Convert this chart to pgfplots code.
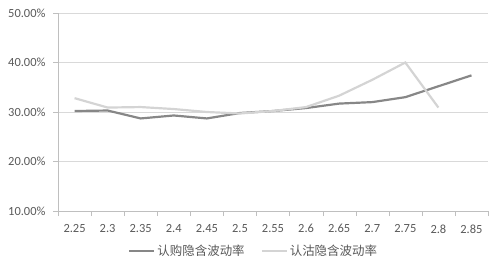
\documentclass[border=0pt]{standalone}
\usepackage{pgfplots}
\pgfplotsset{compat=1.18}
\usepackage{fontspec}
\setmainfont{Carlito}
\newfontfamily\cjk{Noto Sans CJK SC}
\definecolor{txt}{HTML}{595959}
\definecolor{gridc}{HTML}{D9D9D9}
\definecolor{axc}{HTML}{BFBFBF}
\definecolor{callc}{HTML}{878787}
\definecolor{putc}{HTML}{D4D4D4}
\begin{document}
\begin{tikzpicture}[x=1bp,y=1bp]
\begin{axis}[
  scale only axis,
  width=430bp, height=198bp,
  xmin=-0.5, xmax=12.5,
  ymin=10, ymax=50,
  ytick={10,20,30,40,50},
  yticklabel={\pgfmathprintnumber[fixed,fixed zerofill,precision=2]{\tick}\%},
  /pgf/number format/assume math mode=true,
  xtick={0,...,12},
  xticklabels={2.25,2.3,2.35,2.4,2.45,2.5,2.55,2.6,2.65,2.7,2.75,2.8,2.85},
  minor xtick={-0.5,0.5,...,12.5},
  major x tick style={draw=none},
  minor x tick style={draw=axc},
  minor tick length=5bp,
  major tick length=5bp,
  tick align=outside,
  y tick style={draw=axc},
  ymajorgrids, grid style={gridc, line width=0.8pt},
  axis x line*=bottom, axis y line*=left,
  x axis line style={draw=axc,-},
  y axis line style={draw=axc,-},
  tick label style={font=\fontsize{12.5}{14}\selectfont, text=txt},
  xticklabel style={yshift=-5bp},
  yticklabel style={xshift=-4bp},
  legend style={draw=none, at={(0.455,-0.2)}, anchor=center, legend columns=2,
    font=\fontsize{12.5}{14}\selectfont\cjk, text=txt,
    /tikz/every even column/.append style={column sep=14bp}},
  legend image code/.code={\draw[#1] (0bp,0bp) -- (25bp,0bp);},
  clip=false,
]
\addplot[callc, line width=2.2pt] coordinates {
(0,30.2) (1,30.3) (2,28.7) (3,29.3) (4,28.7) (5,29.8) (6,30.2) (7,30.8) (8,31.7) (9,32.0) (10,33.0) (11,35.2) (12,37.4)};
\addlegendentry{认购隐含波动率}
\addplot[putc, line width=2.2pt] coordinates {
(0,32.8) (1,30.9) (2,31.0) (3,30.6) (4,30.0) (5,29.7) (6,30.2) (7,31.0) (8,33.3) (9,36.5) (10,40.0) (11,30.9)};
\addlegendentry{认沽隐含波动率}
\coordinate (bl) at (rel axis cs:-0.1349,-0.2828);
\coordinate (tr) at (rel axis cs:1.0279,1.0657);
\end{axis}
\path[use as bounding box] (bl) rectangle (tr);
\end{tikzpicture}
\end{document}
